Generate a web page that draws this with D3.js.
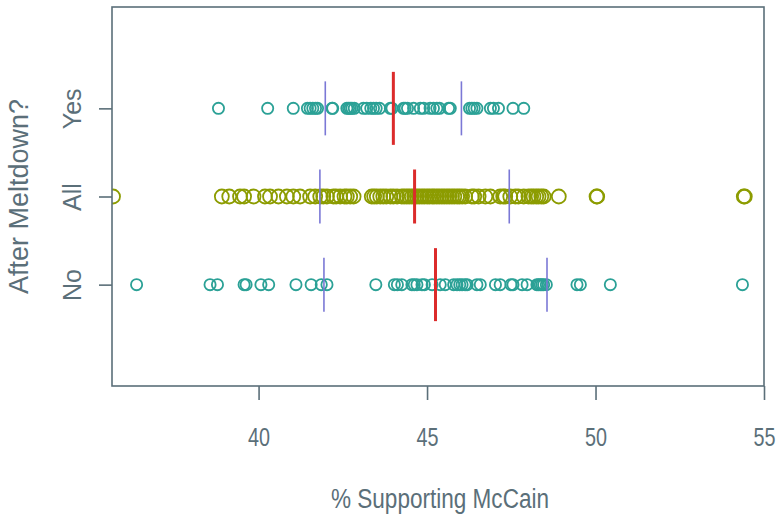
<!DOCTYPE html>
<html>
<head>
<meta charset="utf-8">
<script src="https://cdn.jsdelivr.net/npm/d3@7"></script>
<style>
  body { margin: 0; background: #ffffff; }
  text { font-family: "Liberation Sans", Arial, sans-serif; }
</style>
</head>
<body>
<svg id="chart" width="779" height="517"></svg>
<script>
// Poll-level % supporting McCain, split by whether the poll was taken after the meltdown
const groups = ["No", "All", "Yes"];

const noValues = [
  36.38, 38.56, 38.78, 39.57, 39.63, 40.07, 40.30, 41.11, 41.56, 41.86, 42.03,
  43.48, 44.03, 44.12, 44.25, 44.55, 44.62, 44.70, 44.85, 44.92, 45.15, 45.39,
  45.54, 45.79, 45.89, 45.97, 46.04, 46.13, 46.19, 46.48, 46.58, 47.03, 47.17,
  47.49, 47.55, 47.82, 47.97, 48.26, 48.31, 48.36, 48.41, 48.46, 48.54, 49.45,
  49.55, 50.44, 54.36
];

const allValues = [
  35.68, 38.91, 39.13, 39.45, 39.57, 39.85, 40.19, 40.34, 40.59, 40.84, 41.03,
  41.23, 41.53, 41.68, 41.83, 41.92, 42.03, 42.22, 42.30, 42.42, 42.55, 42.62,
  42.72, 42.82, 43.36, 43.43, 43.51, 43.61, 43.70, 43.79, 43.91, 44.00, 44.11,
  44.25, 44.32, 44.40, 44.47, 44.55, 44.62, 44.70, 44.77, 44.85, 44.92, 45.00,
  45.07, 45.15, 45.21, 45.29, 45.36, 45.44, 45.51, 45.59, 45.66, 45.74, 45.81,
  45.89, 45.96, 46.04, 46.13, 46.33, 46.40, 46.53, 46.73, 46.88, 47.17, 47.26,
  47.32, 47.47, 47.62, 47.71, 47.87, 48.01, 48.09, 48.16, 48.24, 48.31, 48.39,
  48.46, 48.91, 50.03, 50.05, 54.40, 54.43
];

const yesValues = [
  38.81, 40.27, 41.03, 41.45, 41.53, 41.61, 41.69, 41.75, 42.18, 42.20, 42.62,
  42.67, 42.72, 42.77, 42.84, 43.11, 43.21, 43.33, 43.41, 43.49, 43.59, 43.91,
  43.96, 44.30, 44.35, 44.42, 44.60, 44.80, 44.90, 45.09, 45.19, 45.29, 45.37,
  45.64, 45.69, 46.26, 46.33, 46.40, 46.48, 46.88, 46.97, 47.12, 47.55, 47.87
];

// Group mean and standard deviation (order follows `groups`)
const groupMeans = [45.25, 44.63, 44.00];
const groupSDs = [3.31, 2.81, 2.02];

const xTicks = [40, 45, 50, 55];
const xLabel = "% Supporting McCain";
const yLabel = "After Meltdown?";

const groupValues = [noValues, allValues, yesValues];

const axisColor = "#5b6f79";
const pointColors = { No: "#2ba196", All: "#8c9c00", Yes: "#2ba196" };
const meanColor = "#dc2b2b";
const sdColor = "#7b78d6";

const svg = d3.select("#chart");
const plotL = 112, plotR = 764, plotT = 7, plotB = 386;

const x = d3.scaleLinear().domain([35.65, 55.0]).range([plotL, plotR]);
// rows sit at 1, 2, 3 on a vertical scale with padding on both ends
const y = d3.scaleLinear().domain([-0.15, 4.15]).range([plotB, plotT]);
const rowPos = g => y(groups.indexOf(g) + 1);

// marks are clipped to the plotting region
svg.append("defs").append("clipPath").attr("id", "plot-clip")
  .append("rect")
  .attr("x", plotL).attr("y", plotT)
  .attr("width", plotR - plotL).attr("height", plotB - plotT);

const plot = svg.append("g").attr("clip-path", "url(#plot-clip)");

// data points
groups.forEach((g, i) => {
  plot.append("g")
    .selectAll("circle")
    .data(groupValues[i])
    .join("circle")
    .attr("cx", d => x(d))
    .attr("cy", rowPos(g))
    .attr("r", g === "All" ? 7 : 5.6)
    .attr("fill", "none")
    .attr("stroke", pointColors[g])
    .attr("stroke-width", 1.8);
});

// mean ± 1 sd markers
groups.forEach((g, i) => {
  const cy = rowPos(g);
  const m = groupMeans[i], s = groupSDs[i];
  const sdHalf = 27;
  const meanHalf = g === "All" ? 27 : 36.5;
  plot.append("g").selectAll("line")
    .data([m - s, m + s])
    .join("line")
    .attr("x1", d => x(d)).attr("x2", d => x(d))
    .attr("y1", cy - sdHalf).attr("y2", cy + sdHalf)
    .attr("stroke", sdColor).attr("stroke-width", 1.6);
  plot.append("line")
    .attr("x1", x(m)).attr("x2", x(m))
    .attr("y1", cy - meanHalf).attr("y2", cy + meanHalf)
    .attr("stroke", meanColor).attr("stroke-width", 3);
});

// plot frame
svg.append("rect")
  .attr("x", plotL).attr("y", plotT)
  .attr("width", plotR - plotL).attr("height", plotB - plotT)
  .attr("fill", "none").attr("stroke", axisColor).attr("stroke-width", 1.6);

// x axis
const xAxis = svg.append("g")
  .attr("transform", `translate(0,${plotB})`)
  .call(d3.axisBottom(x).tickValues(xTicks).tickSize(14).tickFormat(d3.format("d")));
xAxis.select(".domain").remove();
xAxis.selectAll(".tick line").attr("stroke", axisColor).attr("stroke-width", 1.6);
xAxis.selectAll(".tick text")
  .attr("fill", axisColor)
  .attr("font-size", 25)
  .attr("dy", null)
  .attr("y", 60)
  .attr("textLength", 22)
  .attr("lengthAdjust", "spacingAndGlyphs");

// y axis
const yAxis = svg.append("g")
  .attr("transform", `translate(${plotL},0)`)
  .call(d3.axisLeft(y).tickValues([1, 2, 3]).tickSize(13).tickFormat(d => groups[d - 1]));
yAxis.select(".domain").remove();
yAxis.selectAll(".tick line").attr("stroke", axisColor).attr("stroke-width", 1.6);
yAxis.selectAll(".tick text")
  .attr("fill", axisColor)
  .attr("font-size", 25)
  .attr("x", null).attr("dy", null)
  .attr("text-anchor", "middle")
  .attr("transform", "translate(-31,0) rotate(-90)");

// axis titles
svg.append("text")
  .attr("x", (plotL + plotR) / 2 + 2)
  .attr("y", 508)
  .attr("text-anchor", "middle")
  .attr("fill", axisColor)
  .attr("font-size", 27)
  .attr("textLength", 218)
  .attr("lengthAdjust", "spacingAndGlyphs")
  .text(xLabel);

svg.append("text")
  .attr("transform", `translate(28,${(plotT + plotB) / 2}) rotate(-90)`)
  .attr("text-anchor", "middle")
  .attr("fill", axisColor)
  .attr("font-size", 27)
  .text(yLabel);
</script>
</body>
</html>
